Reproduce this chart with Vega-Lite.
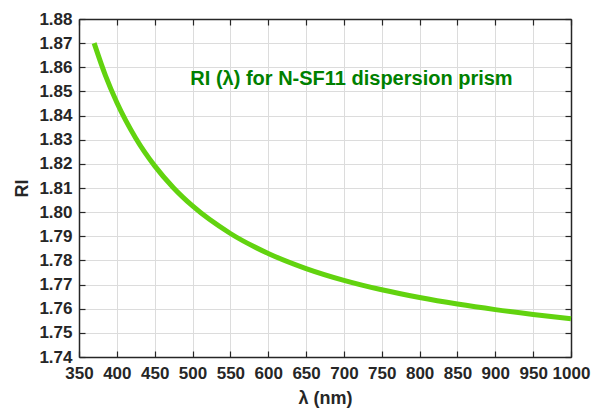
{
  "$schema": "https://vega.github.io/schema/vega-lite/v6.json",
  "width": 492,
  "height": 338,
  "autosize": {"type": "none"},
  "padding": {"left": 79, "top": 19, "right": 29, "bottom": 55},
  "background": "white",
  "config": {
    "view": {"stroke": null},
    "font": "Liberation Sans",
    "axis": {
      "domainColor": "#262626",
      "tickColor": "#262626",
      "labelColor": "#262626",
      "titleColor": "#262626",
      "labelFont": "Liberation Sans",
      "titleFont": "Liberation Sans",
      "labelFontWeight": "bold",
      "titleFontWeight": "bold",
      "labelFontSize": 17,
      "titleFontSize": 18,
      "gridColor": "#dcdcdc",
      "gridWidth": 1,
      "domainWidth": 1.5,
      "tickWidth": 1.2
    }
  },
  "data": {
    "values": [
      {"wl": 370, "ri": 1.87002},
      {"wl": 385, "ri": 1.856545},
      {"wl": 400, "ri": 1.845422},
      {"wl": 425, "ri": 1.830633},
      {"wl": 450, "ri": 1.819163},
      {"wl": 475, "ri": 1.810014},
      {"wl": 500, "ri": 1.802555},
      {"wl": 550, "ri": 1.791155},
      {"wl": 600, "ri": 1.782884},
      {"wl": 650, "ri": 1.776633},
      {"wl": 700, "ri": 1.771751},
      {"wl": 750, "ri": 1.767835},
      {"wl": 800, "ri": 1.76462},
      {"wl": 850, "ri": 1.761927},
      {"wl": 900, "ri": 1.759628},
      {"wl": 950, "ri": 1.757634},
      {"wl": 1000, "ri": 1.755877}
    ]
  },
  "layer": [
    {
      "mark": {"type": "line", "color": "#62d30f", "strokeWidth": 5, "interpolate": "monotone"},
      "encoding": {
        "x": {
          "field": "wl", "type": "quantitative",
          "scale": {"domain": [350, 1000], "nice": false, "zero": false},
          "axis": {"title": "λ (nm)", "format": "d", "values": [350,400,450,500,550,600,650,700,750,800,850,900,950,1000], "tickSize": -6, "labelPadding": 14, "titlePadding": 8, "grid": true, "labelFlush": false}
        },
        "y": {
          "field": "ri", "type": "quantitative",
          "scale": {"domain": [1.74, 1.88], "nice": false, "zero": false},
          "axis": {"title": "RI", "values": [1.74,1.75,1.76,1.77,1.78,1.79,1.8,1.81,1.82,1.83,1.84,1.85,1.86,1.87,1.88], "format": ".2f", "tickSize": -6, "labelPadding": 13, "titlePadding": 7, "grid": true, "labelFlush": false}
        }
      }
    },
    {
      "mark": {"type": "line", "opacity": 0},
      "encoding": {
        "x": {
          "field": "wl", "type": "quantitative",
          "axis": {"orient": "top", "title": null, "labels": false, "values": [350,400,450,500,550,600,650,700,750,800,850,900,950,1000], "tickSize": -6, "grid": false}
        },
        "y": {
          "field": "ri", "type": "quantitative",
          "axis": {"orient": "right", "title": null, "labels": false, "values": [1.74,1.75,1.76,1.77,1.78,1.79,1.8,1.81,1.82,1.83,1.84,1.85,1.86,1.87,1.88], "tickSize": -6, "grid": false}
        }
      }
    },
    {
      "data": {"values": [{"wl": 710, "ri": 1.855, "label": "RI (λ) for N-SF11 dispersion prism"}]},
      "mark": {"type": "text", "color": "#008000", "fontWeight": "bold", "fontSize": 20, "font": "Liberation Sans", "align": "center", "baseline": "middle"},
      "encoding": {
        "x": {"field": "wl", "type": "quantitative", "axis": null},
        "y": {"field": "ri", "type": "quantitative", "axis": null},
        "text": {"field": "label"}
      }
    }
  ],
  "resolve": {"axis": {"x": "independent", "y": "independent"}}
}
